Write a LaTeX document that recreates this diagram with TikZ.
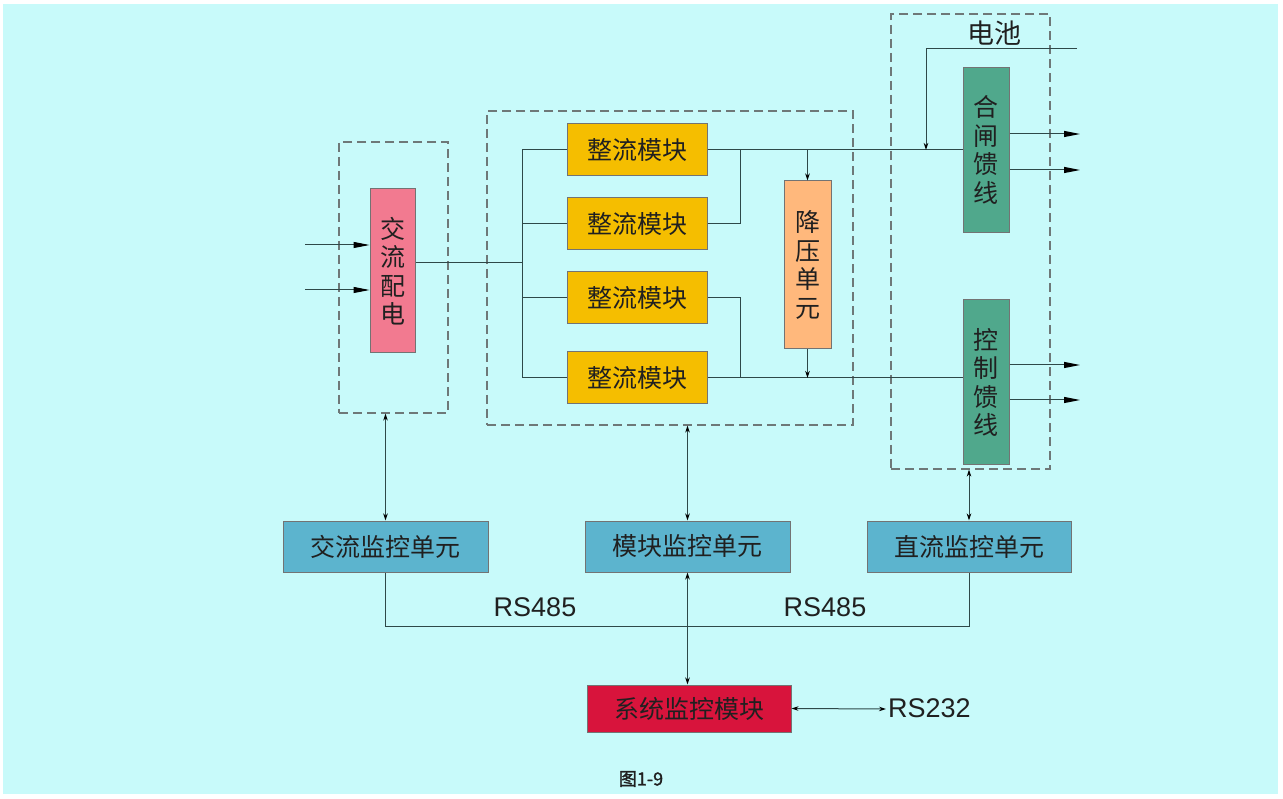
\documentclass[tikz,border=0pt]{standalone}
\usepackage{fontspec}
\setmainfont{Noto Sans CJK SC}
\newfontfamily\latinf{Liberation Sans}
\usetikzlibrary{arrows.meta}
\definecolor{bgc}{HTML}{C8FAFA}
\definecolor{pinkc}{HTML}{F27A90}
\definecolor{yelc}{HTML}{F5BE00}
\definecolor{orac}{HTML}{FFB87C}
\definecolor{tealc}{HTML}{50A88C}
\definecolor{bluec}{HTML}{5CB4CE}
\definecolor{redc}{HTML}{D8143C}
\definecolor{linec}{HTML}{2E4848}
\definecolor{dashc}{HTML}{6E7878}
\definecolor{txtc}{HTML}{202020}
\tikzset{
  blk/.style={rectangle, draw=black!55, line width=1pt, text=txtc, inner sep=0pt},
  hbox/.style={blk, font=\fontsize{25}{28}\selectfont},
  vbox/.style={blk, align=center, font=\fontsize{25}{28.5}\selectfont},
  dbox/.style={rectangle, draw=dashc, line width=1.2pt, dash pattern=on 9pt off 5pt, inner sep=0pt},
  wire/.style={draw=linec, line width=1pt},
  sarr/.style={wire, -{Stealth[length=7pt,width=4.5pt,color=black]}},
  darr/.style={wire, {Stealth[length=7pt,width=4.5pt,color=black]}-{Stealth[length=7pt,width=4.5pt,color=black]}},
  oarr/.style={draw=linec, line width=1pt, -{Triangle[length=16pt,width=6pt,color=black]}},
}
\begin{document}
\begin{tikzpicture}[x=1pt,y=-1pt]
\fill[white] (0,0) rectangle (1283,799);
\fill[bgc] (3,4) rectangle (1278,794);
\useasboundingbox (0,0) rectangle (1283,799);

% dashed groups
\node[dbox, minimum width=109pt, minimum height=271pt] (acd) at (393.5,277.5) {};
\node[dbox, minimum width=366pt, minimum height=314pt] (modd) at (670,268) {};
\node[dbox, minimum width=159pt, minimum height=455pt] (batd) at (970.5,241.5) {};

% AC distribution
\node[vbox, fill=pinkc, minimum width=45pt, minimum height=164pt] (ac) at (392.5,271) {交\\流\\配\\电};

% rectifier modules
\node[hbox, fill=yelc, minimum width=140pt, minimum height=52pt] (r1) at (637,150) {整流模块};
\node[hbox, fill=yelc, minimum width=140pt, minimum height=52pt] (r2) at (637,224) {整流模块};
\node[hbox, fill=yelc, minimum width=140pt, minimum height=52pt] (r3) at (637,298) {整流模块};
\node[hbox, fill=yelc, minimum width=140pt, minimum height=52pt] (r4) at (637,378) {整流模块};

% step-down unit
\node[vbox, fill=orac, minimum width=47pt, minimum height=168pt] (jy) at (807.5,265) {降\\压\\单\\元};

% feeders
\node[vbox, fill=tealc, minimum width=46pt, minimum height=165pt] (hz) at (986,150) {合\\闸\\馈\\线};
\node[vbox, fill=tealc, minimum width=46pt, minimum height=165pt] (kz) at (986,382.5) {控\\制\\馈\\线};
\node[font=\fontsize{27}{30}\selectfont, text=txtc] (batl) at (994,33) {电池};

% monitors
\node[hbox, fill=bluec, minimum width=205pt, minimum height=51pt] (acm) at (385.5,546.5) {交流监控单元};
\node[hbox, fill=bluec, minimum width=205pt, minimum height=51pt] (mm) at (687.5,546.5) {模块监控单元};
\node[hbox, fill=bluec, minimum width=204pt, minimum height=51pt] (dcm) at (969,546.5) {直流监控单元};
\node[hbox, fill=redc, minimum width=204pt, minimum height=47pt] (sys) at (689,708.5) {系统监控模块};

% labels
\node[font=\latinf\fontsize{27}{30}\selectfont, text=txtc] (rs1) at (535,607) {RS485};
\node[font=\latinf\fontsize{27}{30}\selectfont, text=txtc] (rs2) at (825,607) {RS485};
\node[font=\latinf\fontsize{27}{30}\selectfont, text=txtc, anchor=west, inner sep=0pt] (rs3) at (888,708) {RS232};
\node[font=\fontsize{18}{20}\selectfont, text=txtc] (fig) at (641,779) {\addfontfeature{FakeBold=1.5}图1-9};

% coordinates
\coordinate (in1) at (305,245);
\coordinate (in2) at (305,290);
\coordinate (bus) at (522,263);
\coordinate (rj) at (740,150);
\coordinate (btop) at (1077,49);
\coordinate (bj) at (926,150);
\coordinate (rsw) at (886,709);

% AC inputs
\draw[oarr] (in1) -- (in1 -| ac.west);
\draw[oarr] (in2) -- (in2 -| ac.west);
% AC to bus
\draw[wire] (ac.east |- bus) -- (bus);
\draw[wire] (bus |- r1.west) -- (bus |- r4.west);
\draw[wire] (bus |- r1.west) -- (r1.west);
\draw[wire] (bus |- r2.west) -- (r2.west);
\draw[wire] (bus |- r3.west) -- (r3.west);
\draw[wire] (bus |- r4.west) -- (r4.west);
% rectifier outputs
\draw[wire] (r1.east) -- (hz.west |- r1.east);
\draw[wire] (r2.east) -| (rj);
\draw[wire] (r3.east) -| (rj |- r4.east);
\draw[wire] (r4.east) -- (kz.west |- r4.east);
% step-down
\draw[sarr] (jy.north |- r1.east) -- (jy.north);
\draw[sarr] (jy.south) -- (jy.south |- r4.east);
% battery
\draw[wire] (btop) -| (926,80);
\draw[sarr] (926,80) -- (bj);
% feeder outputs
\draw[oarr] (hz.east |- 0,134) -- (1080,134);
\draw[oarr] (hz.east |- 0,170) -- (1080,170);
\draw[oarr] (kz.east |- 0,365) -- (1080,365);
\draw[oarr] (kz.east |- 0,400) -- (1080,400);
% monitor links
\draw[darr] (acm.north |- acd.south) -- (acm.north);
\draw[darr] (mm.north |- modd.south) -- (mm.north);
\draw[darr] (dcm.north |- batd.south) -- (dcm.north);
\draw[wire] (acm.south) -- (acm.south |- 0,626) -| (dcm.south);
\draw[darr] (mm.south) -- (mm.south |- sys.north);
\draw[darr] (sys.east) -- (rsw);
\end{tikzpicture}
\end{document}
